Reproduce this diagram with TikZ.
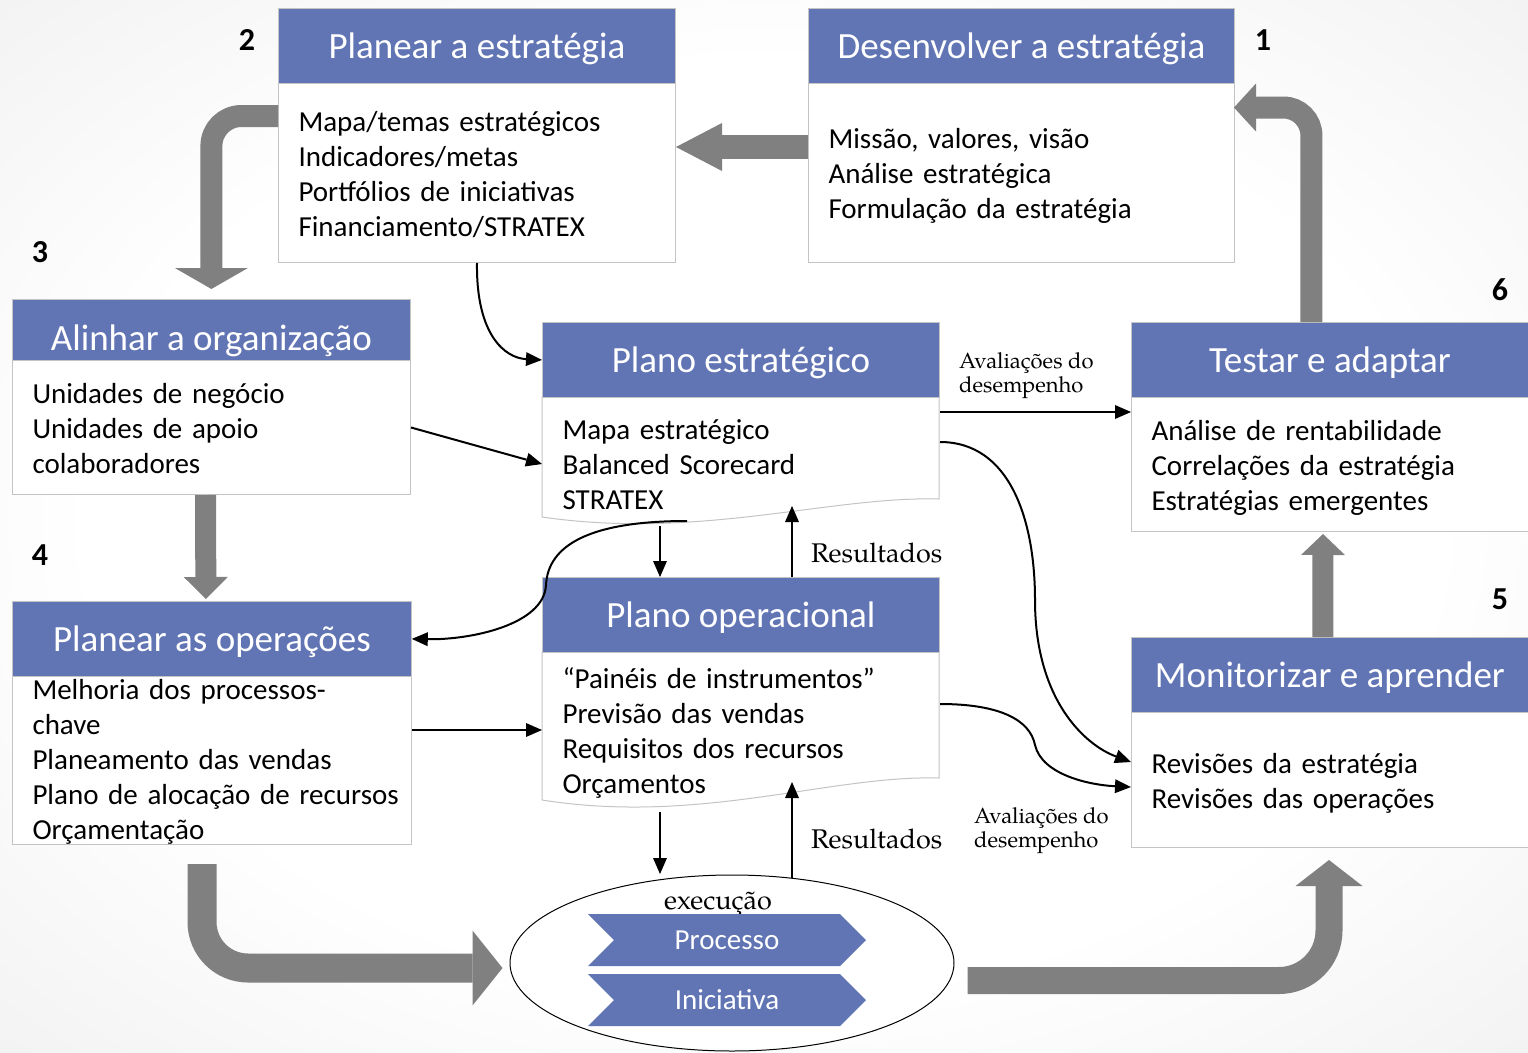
\documentclass[tikz,border=0pt]{standalone}
\usepackage{fontspec}
\newfontfamily\calibri{Carlito}
\newfontfamily\pal{TeX Gyre Pagella}
\usetikzlibrary{arrows.meta,calc,shapes.geometric,shapes.symbols}

\definecolor{hdrblue}{RGB}{97,117,180}
\definecolor{fatgray}{RGB}{128,128,128}
\definecolor{edge}{RGB}{196,196,196}

\pgfdeclareradialshading{pagebg}{\pgfpoint{0bp}{0bp}}{color(0bp)=(white); color(22bp)=(white); color(50bp)=(black!10); color(80bp)=(black!12)}

\begin{document}
\begin{tikzpicture}[x=1pt,y=-1pt,
  hdr/.style={rectangle, fill=hdrblue, draw=edge, line width=0.8pt, anchor=north west,
    inner sep=0pt, text=white, font=\calibri\fontsize{37}{40}\selectfont,
    text height=25pt, text depth=0pt},
  % the argument is the height kept above the first baseline
  bodybox/.style={rectangle, fill=white, draw=edge, line width=1pt, anchor=north west,
    inner xsep=20pt, inner ysep=0pt, align=left, font=\calibri\fontsize{29}{35}\selectfont,
    execute at begin node={\rule{0pt}{#1}}, execute at end node={\rule[-7pt]{0pt}{7pt}}},
  bodybox/.default=28pt,
  num/.style={font=\calibri\bfseries\fontsize{32}{32}\selectfont, inner sep=0pt},
  lbl/.style={font=\pal\fontsize{27}{29}\selectfont, inner sep=0pt},
  lblsmall/.style={font=\pal\fontsize{22}{24}\selectfont, inner sep=0pt, align=left},
  arr/.style={draw=black, line width=2pt, -{Triangle[width=14pt,length=16pt,line width=0pt]}},
  fat/.style={draw=fatgray, line width=#1},
  chev/.style={signal, signal from=west, signal to=east, signal pointer angle=90,
    fill=hdrblue, minimum width=278pt, minimum height=52pt, inner sep=0pt, text=white,
    font=\calibri\fontsize{29}{30}\selectfont},
]

% page and its soft grey surround
\useasboundingbox (0,0) rectangle (1528,1052);
\shade[shading=pagebg] (0,0) rectangle (1528,1052);

% ---------- the six stages ----------
% 1 Desenvolver a estrategia
\node[bodybox, text width=386pt, minimum height=179pt] (Bb) at (808,83)
  {Missão, valores, visão\\Análise estratégica\\Formulação da estratégia};
\node[hdr, minimum width=426pt, minimum height=75pt] (Bh) at (808,8) {Desenvolver a estratégia};

% 2 Planear a estrategia
\node[bodybox, text width=357pt, minimum height=179pt] (Ab) at (278,83)
  {Mapa/temas estratégicos\\Indicadores/metas\\Portfólios de iniciativas\\Financiamento/STRATEX};
\node[hdr, minimum width=397pt, minimum height=75pt] (Ah) at (278,8) {Planear a estratégia};

% 3 Alinhar a organizacao
\node[bodybox, text width=358pt, minimum height=134pt] (Cb) at (12,360)
  {Unidades de negócio\\Unidades de apoio\\colaboradores};
\node[hdr, minimum width=398pt, minimum height=61pt, text height=41pt] (Ch) at (12,299) {Alinhar a organização};

% 4 Planear as operacoes (five lines fill the box to its edges)
\node[bodybox=25pt, inner ysep=-2pt, text width=359pt, minimum height=168pt] (Db) at (12,676)
  {\mbox{Melhoria dos processos-}\\chave\\\mbox{Planeamento das vendas}\\\mbox{Plano de alocação de recursos}\\Orçamentação};
\node[hdr, minimum width=399pt, minimum height=75pt] (Dh) at (12,601) {Planear as operações};

% 6 Testar e adaptar
\node[bodybox, text width=357pt, minimum height=134pt] (Gb) at (1131,397)
  {Análise de rentabilidade\\Correlações da estratégia\\Estratégias emergentes};
\node[hdr, minimum width=397pt, minimum height=75pt] (Gh) at (1131,322) {Testar e adaptar};

% 5 Monitorizar e aprender
\node[bodybox, text width=357pt, minimum height=135pt] (Hb) at (1131,712)
  {Revisões da estratégia\\Revisões das operações};
\node[hdr, minimum width=397pt, minimum height=75pt] (Hh) at (1131,637) {Monitorizar e aprender};

% ---------- the two plan documents (wavy lower edge) ----------
\path[fill=white, draw=edge, line width=1pt] (542,397) -- (939,397) -- (939,499)
  .. controls (830,496) and (700,540) .. (542,517) -- cycle;
\node[bodybox, draw=none, fill=none, text width=357pt, minimum height=133pt] (Eb) at (542,397)
  {Mapa estratégico\\Balanced Scorecard\\STRATEX};
\node[hdr, minimum width=397pt, minimum height=75pt] (Eh) at (542,322) {Plano estratégico};

\path[fill=white, draw=edge, line width=1pt] (542,652) -- (939,652) -- (939,778)
  .. controls (830,775) and (700,825) .. (542,800) -- cycle;
\node[bodybox, draw=none, fill=none, text width=357pt, minimum height=156pt] (Fb) at (542,652)
  {“Painéis de instrumentos”\\Previsão das vendas\\Requisitos dos recursos\\Orçamentos};
\node[hdr, minimum width=397pt, minimum height=75pt] (Fh) at (542,577) {Plano operacional};

% ---------- execution ----------
\node[ellipse, draw=black, line width=1pt, fill=white, minimum width=444pt,
  minimum height=176pt, inner sep=0pt] (ex) at (732,963) {};
\node[lbl] (exlab) at (718,904) {execução};
\node[chev] (proc) at (727,940) {Processo};
\node[chev] (inic) at (727,1000) {Iniciativa};

% ---------- stage numbers ----------
\node[num] (n1) at (1263,40) {1};
\node[num] (n2) at (247,40) {2};
\node[num] (n3) at (40,252) {3};
\node[num] (n4) at (40,555) {4};
\node[num] (n5) at (1500,599) {5};
\node[num] (n6) at (1500,290) {6};

% ---------- broad grey cycle arrows ----------
\draw[fat=24pt, -{Triangle[width=48pt,length=46pt,line width=0pt]}]
  ($(Bb.north west)+(0,64)$) -- ($(Ab.north east)+(0,64)$);
\draw[fat=22pt, rounded corners=30pt, -{Triangle[width=73pt,length=21pt,line width=0pt]}]
  ($(Ab.north west)+(0,33)$) -| ($(Ch.north)+(0,-10)$);
\draw[fat=21pt, -{Triangle[width=44pt,length=22pt,line width=0pt]}]
  ($(Cb.south)+(-6,0)$) -- ($(Dh.north)+(-6,-2)$);
\coordinate (dstart) at ($(Db.south)+(-10,19)$);
\coordinate (ein) at ($(ex.west)+(-7,5)$);
\draw[fat=29pt, rounded corners=46pt, -{Triangle[width=75pt,length=30pt,line width=0pt]}]
  (dstart) |- (ein);
\coordinate (eout) at ($(ex.east)+(13,17.5)$);
\coordinate (hin) at ($(Hb.south)+(-1,12)$);
\draw[fat=27pt, rounded corners=50pt, -{Triangle[width=67pt,length=26pt,line width=0pt]}]
  (eout) -| (hin);
\draw[fat=21pt, -{Triangle[width=44pt,length=21pt,line width=0pt]}]
  ($(Hh.north)+(-7,0)$) -- ($(Gb.south)+(-7,2)$);
\draw[fat=22pt, rounded corners=28pt, -{Triangle[width=48pt,length=22pt,line width=0pt]}]
  ($(Gh.north)+(-18.5,0)$) |- ($(Bb.north east)+(-1,24.5)$);

% ---------- thin flow arrows ----------
\coordinate (Ew1) at (660,526);
\coordinate (Ew2) at (792,506);
\coordinate (Ew3) at (687,521);
\coordinate (Fw1) at (660,812);
\coordinate (Fw2) at (792,782);
\coordinate (exl) at (660,874);
\coordinate (exr) at (792,878);

\draw[arr] (Ab.south) .. controls (476,335) and (505,358) .. (Eh.west);
\draw[arr] (Cb.east) -- (Eb.west);
\draw[arr] ($(Eb.north east)+(0,15)$) -- ($(Gb.north west)+(0,15)$);
\draw[arr] ($(Eb.north east)+(0,45)$) .. controls (1010,442) and (1035,520) .. (1035,600)
  .. controls (1035,700) and (1085,745) .. ($(Hb.north west)+(0,50)$);
\draw[arr] ($(Fb.north east)+(0,52)$) .. controls (1000,704) and (1030,720) .. (1035,745)
  .. controls (1042,775) and (1090,785) .. ($(Hb.north west)+(0,75)$);
\draw[arr] (Ew3) .. controls (590,521) and (548,545) .. (546,585)
  .. controls (544,625) and (470,640) .. (Dh.east);
\draw[arr] ($(Db.north east)+(0,54)$) -- ($(Fb.north west)+(0,78)$);
\draw[arr] (Ew1) -- (Ew1 |- Fh.north);
\draw[arr] (Ew2 |- Fh.north) -- (Ew2);
\draw[arr] (Fw1) -- (exl);
\draw[arr] (exr) -- (Fw2);

% ---------- flow labels ----------
\node[lblsmall, anchor=west] (av1) at (959,376) {Avaliações do\\desempenho};
\node[lblsmall, anchor=west] (av2) at (974,831) {Avaliações do\\desempenho};
\node[lbl, anchor=west] (res1) at (811,553) {Resultados};
\node[lbl, anchor=west] (res2) at (811,839) {Resultados};

\end{tikzpicture}
\end{document}
